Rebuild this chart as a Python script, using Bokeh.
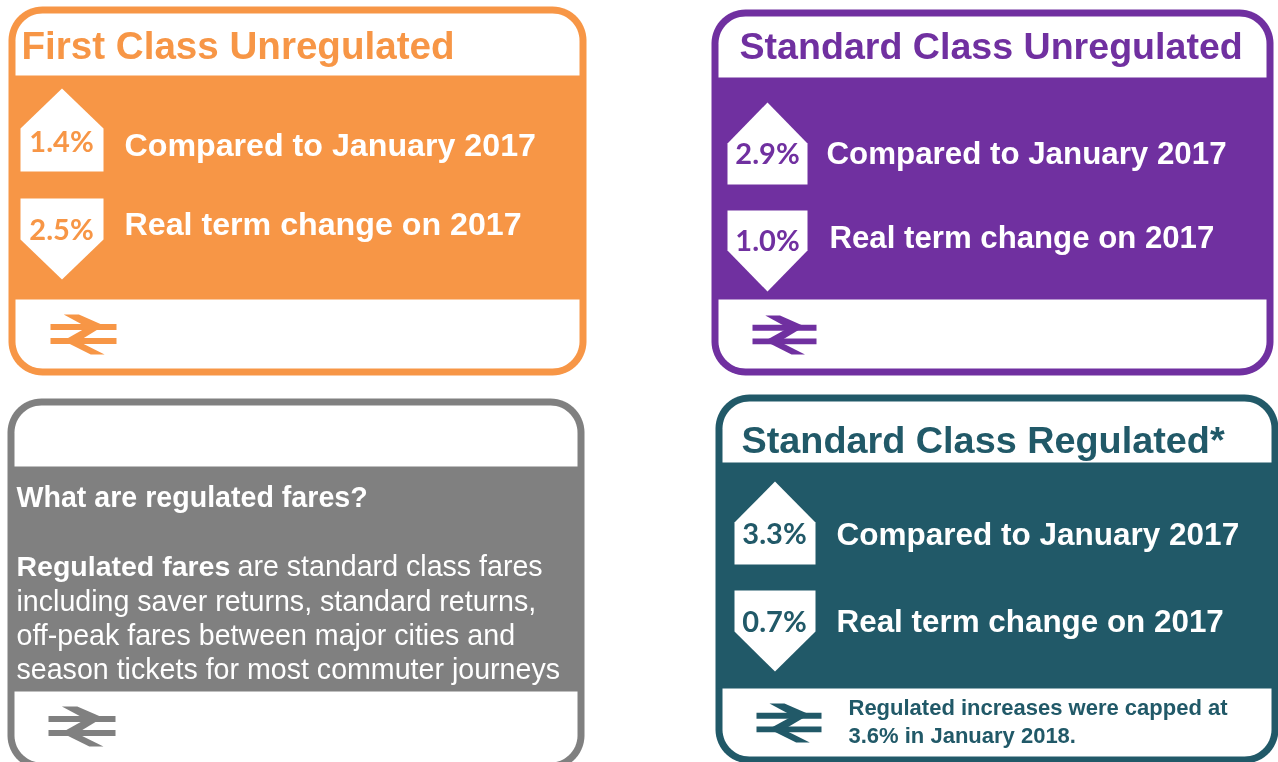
import numpy as np
from bokeh.plotting import figure
from bokeh.embed import file_html
from bokeh.resources import INLINE
from bokeh.core.properties import value

titles = ["First Class Unregulated", "Standard Class Unregulated", "Standard Class Regulated*"]
compared_label = "Compared to January 2017"
real_label = "Real term change on 2017"
first_class = [1.4, 2.5]
standard_unreg = [2.9, 1.0]
standard_reg = [3.3, 0.7]
footnote = ["Regulated increases were capped at", "3.6% in January 2018."]
grey_heading = "What are regulated fares?"
grey_bold = "Regulated fares"
grey_first = "are standard class fares"
grey_lines = ["including saver returns, standard returns,",
              "off-peak fares between major cities and",
              "season tickets for most commuter journeys"]

ORANGE, PURPLE, GREY, TEAL = "#F79646", "#7030A0", "#808080", "#215968"
ARIAL = value("Liberation Sans")
LATO = value("Lato")

p = figure(width=1278, height=762, x_range=(0, 1278), y_range=(762, 0),
           output_backend="svg", toolbar_location=None, min_border=0,
           x_axis_type=None, y_axis_type=None, outline_line_color=None,
           background_fill_color="white", border_fill_color="white")
p.grid.visible = False
p.styles = {"position": "fixed", "left": "0", "top": "0"}


def rrect(x0, y0, x1, y1, r):
    xs, ys = [], []
    for cx, cy, a0 in [(x1 - r, y0 + r, -90), (x1 - r, y1 - r, 0), (x0 + r, y1 - r, 90), (x0 + r, y0 + r, 180)]:
        t = np.radians(np.arange(a0, a0 + 91, 6))
        xs += list(cx + r * np.cos(t))
        ys += list(cy + r * np.sin(t))
    return xs, ys


def card(x0, y0, x1, y1, band0, band1, col, b=7, r=34):
    xs, ys = rrect(x0, y0, x1, y1, r)
    p.patch(xs, ys, fill_color=col, line_color=None)
    xs, ys = rrect(x0 + b, y0 + b, x1 - b, y1 - b, r - b)
    p.patch(xs, ys, fill_color="white", line_color=None)
    p.quad(left=x0 + 1, right=x1 - 1, top=band0, bottom=band1, fill_color=col, line_color=None)


def logo(x0, y0, x1, y1, col):
    w, h = x1 - x0, y1 - y0
    shapes = [
        [(0, .24), (1, .24), (1, .39), (0, .39)],
        [(0, .59), (1, .59), (1, .74), (0, .74)],
        [(.20, 0), (.43, 0), (.80, .27), (.50, .27)],
        [(.72, .37), (.50, .37), (.24, .61), (.48, .61)],
        [(.27, .72), (.48, .72), (.82, 1), (.61, 1)],
    ]
    for s in shapes:
        p.patch([x0 + w * a for a, _ in s], [y0 + h * c for _, c in s],
                fill_color=col, fill_alpha=1, line_color=None)


def arrow(x0, x1, top, mid, bot, up):
    xm = (x0 + x1) / 2
    if up:
        p.patch([xm, x1, x1, x0, x0], [top, mid, bot, bot, mid], fill_color="white", line_color=None)
    else:
        p.patch([x0, x1, x1, xm, x0], [top, top, mid, bot, mid], fill_color="white", line_color=None)


def txt(x, y, s, col, size, style="bold", font=ARIAL):
    p.text([x], [y], text=[s], text_color=col, text_font=font, text_font_size=f"{size}px",
           text_font_style=style, text_baseline="middle", text_align="left")


def pct(cx, y, v, col):
    p.text([cx], [y], text=[f"{v}%"], text_color=col, text_font=LATO, text_font_size="29px",
           text_font_style="bold", text_baseline="middle", text_align="center")


# First class
card(8, 6, 586, 375, 75, 299, ORANGE)
txt(21, 45, titles[0], ORANGE, 38.6)
arrow(20, 103, 88, 128, 171, True)
arrow(20, 103, 198, 239, 279, False)
pct(61, 140, first_class[0], ORANGE)
pct(61, 228, first_class[1], ORANGE)
txt(124, 144, compared_label, "white", 32.2)
txt(124, 223, real_label, "white", 32.2)
logo(50, 314, 116, 354, ORANGE)

# Standard unregulated
card(711, 9, 1273, 375, 77, 299, PURPLE)
txt(739, 45, titles[1], PURPLE, 37.6)
arrow(727, 807, 102, 143, 184, True)
arrow(727, 807, 210, 250, 291, False)
pct(767, 152, standard_unreg[0], PURPLE)
pct(767, 239, standard_unreg[1], PURPLE)
txt(826, 153, compared_label, "white", 31.3)
txt(829, 237, real_label, "white", 31.2)
logo(752, 315, 816, 354, PURPLE)

# Grey explanation
card(7, 398, 584, 769, 466, 691, GREY)
txt(16, 496, grey_heading, "white", 28.6)
txt(16, 565, grey_bold, "white", 28.5)
txt(237, 565, grey_first, "white", 28.6, "normal")
for y, s in zip([600, 634, 668], grey_lines):
    txt(16, y, s, "white", 28.6, "normal")
logo(48, 706, 115, 746, GREY)

# Standard regulated
card(715, 394, 1278, 763, 462, 688, TEAL)
txt(741, 439, titles[2], TEAL, 37.8)
arrow(734, 815, 481, 522, 564, True)
arrow(734, 815, 590, 631, 671, False)
pct(774, 532, standard_reg[0], TEAL)
pct(774, 620, standard_reg[1], TEAL)
txt(836, 533, compared_label, "white", 31.5)
txt(836, 621, real_label, "white", 31.4)
logo(756, 703, 821, 742, TEAL)
txt(848, 707, footnote[0], TEAL, 22)
txt(848, 735, footnote[1], TEAL, 22)

open("out.html", "w").write(file_html(p, INLINE))
